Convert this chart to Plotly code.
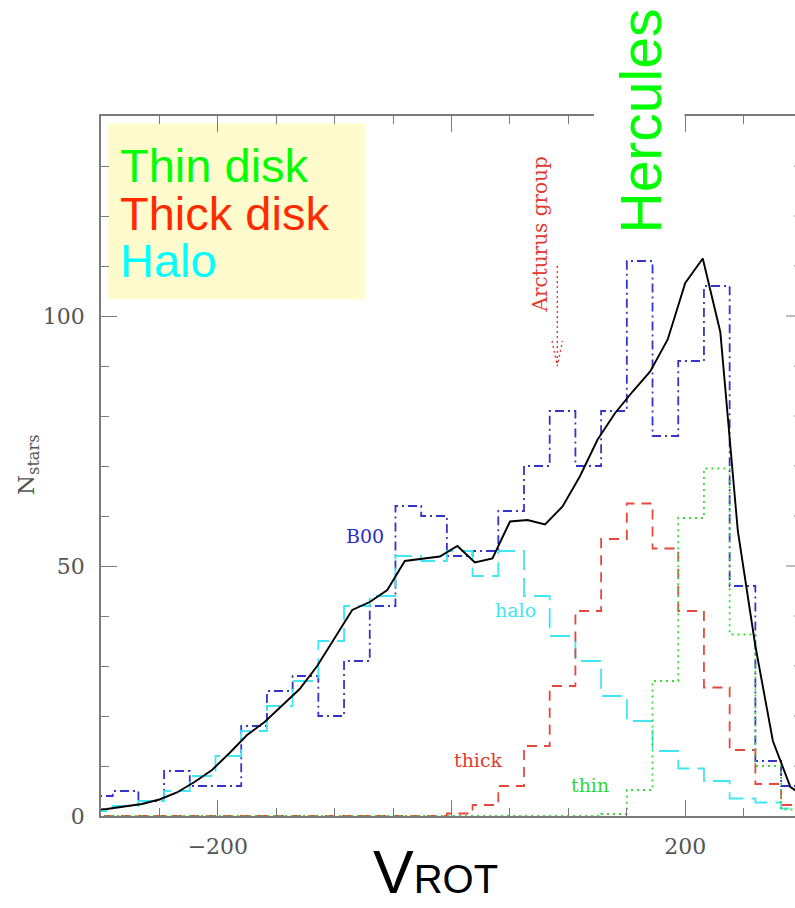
import plotly.graph_objects as go

# ---- data -------------------------------------------------------------
# histogram bins (km/s), 22 km/s wide, given by their left edges
bin_left = [-312, -290, -268, -246, -224, -202, -180, -158, -136, -114,
            -92, -70, -48, -26, -4, 18, 40, 62, 84, 106,
            128, 150, 172, 194, 216, 238, 260, 282]
BIN_WIDTH = 22

# observed sample (B00)
n_b00 = [4, 5, 3, 9, 6, 6, 18, 25, 28, 20,
         31, 42, 62, 60, 52, 53, 61, 70, 81, 70,
         81, 111, 76, 91, 106, 46, 11, 6]
# model components
n_halo = [1, 2, 3, 5, 8, 12, 17, 22, 27, 35,
          42, 44, 52, 51, 53, 48, 53, 44, 36, 31,
          24, 19, 13, 9.5, 7, 3.5, 2.7, 1.5]
n_thick = [0, 0, 0, 0, 0, 0, 0, 0, 0, 0,
           0, 0, 0, 0, 0.5, 2.2, 6, 14, 26, 41,
           55.4, 62.5, 53.5, 41, 25.7, 13.2, 6.4, 2.2]
n_thin = [0, 0, 0, 0, 0, 0, 0, 0, 0, 0,
          0, 0, 0, 0, 0, 0, 0, 0, 0, 0,
          0.4, 5.2, 27, 59.6, 69.5, 36.3, 10, 1.3]

# total model curve
model_v = [-310, -295, -280, -265, -250, -235, -220, -205, -190, -175,
           -160, -145, -130, -115, -100, -85, -70, -55, -40, -25,
           -10, 5, 20, 35, 50, 65, 80, 95, 110, 125,
           140, 155, 170, 185, 200, 215, 230, 245, 260, 275,
           290, 305]
model_n = [1.2, 1.4, 1.9, 2.4, 3.3, 4.7, 6.8, 9.2, 12.6, 16.2,
           18.8, 22.2, 25.4, 30.0, 35.5, 41.2, 42.8, 45.2, 51.0, 51.4,
           51.9, 54.0, 50.7, 51.5, 58.9, 59.2, 58.3, 61.9, 68.0, 75.3,
           80.6, 84.9, 88.9, 95.3, 106.6, 111.5, 96.8, 57.0, 34.0, 15.0,
           5.8, 3.5]

x_tickvals = [-200, 200]
x_ticktext = ["\u2212200", "200"]
x_unlabelled_major = [0]
y_tickvals = [0, 50, 100]
y_ticktext = ["0", "50", "100"]

# Arcturus group marker (km/s) and arrow extent (stars)
ARCTURUS_V = 90.5
ARROW_TOP, ARROW_TIP = 110, 90

# ---- figure geometry ---------------------------------------------------
W, H = 795, 908
L, R, T, B = 101, 0, 116, 92
PW, PH = W - L - R, H - T - B
X_MIN = -300
PX_PER_KMS = 1.1685
X_MAX = X_MIN + PW / PX_PER_KMS
Y_MAX = 140
MAJOR_LEN, MINOR_LEN = 16, 8


def px_x(px):
    return (px - L) / PW


def px_y(py):
    return (H - B - py) / PH


def steps(values):
    xs = bin_left + [bin_left[-1] + BIN_WIDTH]
    ys = list(values) + [values[-1]]
    return xs, ys


AX = "#7a7a7a"
LBL = "#555555"
SERIF = "DejaVu Serif"
SANS = "Liberation Sans"

fig = go.Figure()

series = [
    (n_b00, "#3434c8", "9px,4px,2px,4px"),
    (n_halo, "#40e6f2", "20px,8px"),
    (n_thick, "#e8483c", "10px,7px"),
    (n_thin, "#3ad83a", "2px,4px"),
]
for vals, col, dash in series:
    xs, ys = steps(vals)
    fig.add_trace(go.Scatter(x=xs, y=ys, mode="lines", line_shape="hv",
                             line=dict(color=col, width=1.8, dash=dash),
                             hoverinfo="skip", showlegend=False))

fig.add_trace(go.Scatter(x=model_v, y=model_n, mode="lines",
                         line=dict(color="black", width=1.9),
                         hoverinfo="skip", showlegend=False))

# Arcturus arrow (dotted)
fig.add_trace(go.Scatter(
    x=[ARCTURUS_V, ARCTURUS_V, None, ARCTURUS_V - 4.5, ARCTURUS_V, ARCTURUS_V + 4.5],
    y=[ARROW_TOP, ARROW_TIP, None, ARROW_TIP + 5, ARROW_TIP, ARROW_TIP + 5],
    mode="lines", line=dict(color="#e03a30", width=1.4, dash="2px,3px"),
    hoverinfo="skip", showlegend=False))

shapes = []
# legend panel
shapes.append(dict(type="rect", xref="paper", yref="paper",
                   x0=px_x(108.3), x1=px_x(365), y0=px_y(299.3), y1=px_y(123.3),
                   fillcolor="#fffbcc", line=dict(width=0), layer="below"))
# long ticks at the unlabelled major value, bottom and top frame
for v in x_unlabelled_major:
    for y0, y1 in ((0, MAJOR_LEN / PH), (1 - MAJOR_LEN / PH, 1)):
        shapes.append(dict(type="line", xref="x", yref="paper",
                           x0=v, x1=v, y0=y0, y1=y1,
                           line=dict(color=AX, width=1)))
# white panel behind the Hercules label (breaks the top frame)
shapes.append(dict(type="rect", xref="paper", yref="paper",
                   x0=px_x(594), x1=px_x(684.5), y0=px_y(131), y1=px_y(0),
                   fillcolor="white", line=dict(width=0), layer="above"))
# ticks on the right-hand frame (frame sits at +300 km/s)
right_frame = L + (300 - X_MIN) * PX_PER_KMS
for v in range(10, Y_MAX, 10):
    ln = MAJOR_LEN if v % 50 == 0 else MINOR_LEN
    shapes.append(dict(type="line", xref="paper", yref="paper",
                       x0=px_x(right_frame - ln), x1=px_x(right_frame),
                       y0=v / Y_MAX, y1=v / Y_MAX,
                       line=dict(color=AX, width=1)))

annotations = []


def note(text, x, y, size, color, family, xref="x", yref="y",
         xanchor="center", angle=0, yanchor="middle"):
    annotations.append(dict(text=text, x=x, y=y, xref=xref, yref=yref,
                            showarrow=False, xanchor=xanchor, yanchor=yanchor,
                            textangle=angle, borderpad=0,
                            font=dict(size=size, color=color, family=family)))


# legend text
note("Thin disk", px_x(119), px_y(181.7 - 0.35 * 47), 47, "#00ff00", SANS,
     "paper", "paper", "left")
note("Thick disk", px_x(119), px_y(230 - 0.35 * 47), 47, "#ff2a00", SANS,
     "paper", "paper", "left")
note("Halo", px_x(119), px_y(276.7 - 0.35 * 47), 47, "#00ffff", SANS,
     "paper", "paper", "left")

# Hercules
note("Hercules", px_x(640), px_y(121.5), 57, "#00ff00", SANS,
     "paper", "paper", angle=-90)

# curve labels
note("B00", -73.9, 56.1, 19, "#2c2cc8", SERIF)
note("halo", 54.3, 41.2, 19, "#3ee6f2", SERIF)
note("thick", 23.3, 11.2, 19, "#e03a30", SERIF)
note("thin", 118.4, 6.2, 19, "#33d633", SERIF)
note("Arcturus group", 75.3, 116.2, 20, "#e03a30", SERIF, angle=-90)

# axis titles
note("V<span style='font-size:40px'>ROT</span>", px_x(372), px_y(907),
     61, "black", SANS, "paper", "paper", "left", yanchor="bottom")
note("N<sub>stars</sub>", px_x(28), px_y(465), 23, LBL, SERIF,
     "paper", "paper", angle=-90)

fig.update_layout(
    width=W, height=H,
    margin=dict(l=L, r=R, t=T, b=B, pad=0),
    paper_bgcolor="white", plot_bgcolor="white",
    showlegend=False,
    shapes=shapes, annotations=annotations,
    xaxis=dict(range=[X_MIN, X_MAX], tickmode="array",
               tickvals=x_tickvals, ticktext=x_ticktext,
               ticks="inside", ticklen=MAJOR_LEN, tickwidth=1, tickcolor=AX,
               minor=dict(tick0=0, dtick=50, ticks="inside", ticklen=MINOR_LEN,
                          tickwidth=1, tickcolor=AX),
               showline=True, linecolor=AX, linewidth=1.5, mirror="ticks",
               showgrid=False, zeroline=False,
               tickfont=dict(family=SERIF, size=22, color=LBL),
               ticklabelstandoff=10),
    yaxis=dict(range=[0, Y_MAX], tickmode="array",
               tickvals=y_tickvals, ticktext=y_ticktext,
               ticks="inside", ticklen=MAJOR_LEN, tickwidth=1, tickcolor=AX,
               minor=dict(tick0=0, dtick=10, ticks="inside", ticklen=MINOR_LEN,
                          tickwidth=1, tickcolor=AX),
               showline=True, linecolor=AX, linewidth=1.5,
               showgrid=False, zeroline=False,
               tickfont=dict(family=SERIF, size=22, color=LBL),
               ticklabelstandoff=10),
)

fig.write_html("out.html")
